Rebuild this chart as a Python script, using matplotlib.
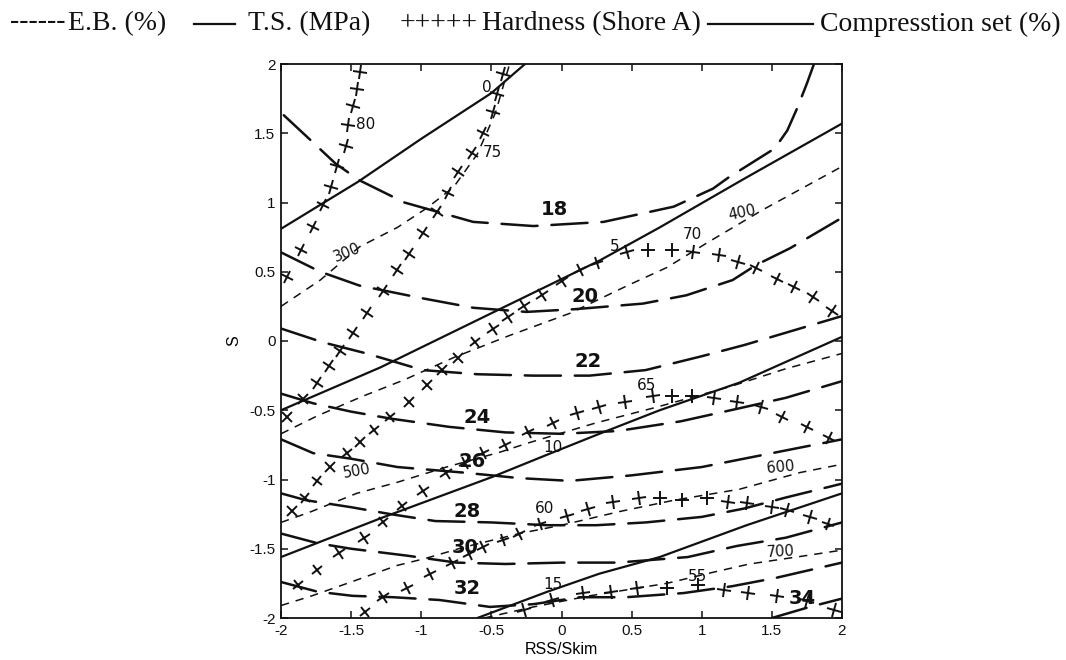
import matplotlib
matplotlib.use("Agg")
import numpy as np
import matplotlib.pyplot as plt
from matplotlib.markers import MarkerStyle
from matplotlib.transforms import Affine2D
from matplotlib.lines import Line2D

plt.rcParams["axes.unicode_minus"] = False
plt.rcParams["lines.scale_dashes"] = False

# ---------------- Tensile strength T.S. (MPa): solid contours ----------------
ts_levels = ["0", "5", "10", "15"]
ts_0 = [(-2.0, 0.81), (-1.45, 1.15), (-1.0, 1.46), (-0.5, 1.79), (-0.26, 2.0)]
ts_5 = [(-2.0, -0.50), (-1.29, -0.19), (-0.42, 0.24), (0.27, 0.58), (0.70, 0.82),
        (1.30, 1.17), (2.0, 1.57)]
ts_10 = [(-2.0, -1.56), (-1.29, -1.28), (-0.49, -0.98), (-0.10, -0.82), (0.27, -0.67),
         (0.70, -0.50), (1.27, -0.30), (2.0, 0.03)]
ts_15 = [(-0.60, -2.0), (-0.10, -1.81), (0.27, -1.68), (0.70, -1.56), (1.32, -1.33),
         (2.0, -1.10)]
ts_label_xy = [(-0.53, 1.83), (0.38, 0.68), (-0.06, -0.77), (-0.06, -1.76)]

# ---------------- Compression set (%): long-dash contours ----------------
cs_levels = ["18", "20", "22", "24", "26", "28", "30", "32", "34"]
cs_18 = [(-1.98, 1.63), (-1.81, 1.47), (-1.61, 1.28), (-1.44, 1.16), (-1.12, 1.0),
         (-0.63, 0.86), (-0.2, 0.83), (0.3, 0.86), (0.8, 0.97), (1.08, 1.10),
         (1.19, 1.18), (1.52, 1.39), (1.61, 1.52), (1.68, 1.68), (1.75, 1.86), (1.80, 2.0)]
cs_20 = [(-2.0, 0.64), (-1.72, 0.50), (-1.44, 0.40), (-1.0, 0.31), (-0.63, 0.24),
         (-0.25, 0.21), (0.1, 0.23), (0.58, 0.27), (0.89, 0.33), (1.22, 0.44),
         (1.39, 0.55), (1.63, 0.67), (2.0, 0.89)]
cs_22 = [(-2.0, 0.09), (-1.70, -0.01), (-1.39, -0.09), (-0.99, -0.21), (-0.6, -0.24),
         (-0.2, -0.25), (0.2, -0.25), (0.6, -0.21), (1.0, -0.11), (1.3, -0.03),
         (1.6, 0.06), (2.0, 0.18)]
cs_24 = [(-2.0, -0.38), (-1.77, -0.45), (-1.5, -0.51), (-1.22, -0.56), (-0.8, -0.62),
         (-0.4, -0.66), (0.0, -0.67), (0.4, -0.65), (0.85, -0.58), (1.25, -0.49),
         (1.6, -0.41), (2.0, -0.29)]
cs_26 = [(-2.0, -0.71), (-1.77, -0.81), (-1.5, -0.85), (-1.17, -0.91), (-0.7, -0.95),
         (-0.3, -0.99), (0.06, -1.01), (0.5, -0.97), (1.0, -0.91), (1.5, -0.81),
         (2.0, -0.71)]
cs_28 = [(-2.0, -1.10), (-1.82, -1.15), (-1.5, -1.20), (-1.22, -1.25), (-0.9, -1.30),
         (-0.5, -1.31), (-0.1, -1.33), (0.25, -1.33), (0.6, -1.31), (1.0, -1.27),
         (1.3, -1.21), (1.6, -1.13), (2.0, -1.03)]
cs_30 = [(-2.0, -1.39), (-1.74, -1.46), (-1.5, -1.50), (-1.1, -1.55), (-0.75, -1.60),
         (-0.4, -1.61), (0.0, -1.60), (0.4, -1.60), (0.9, -1.56), (1.25, -1.48),
         (1.6, -1.42), (2.0, -1.31)]
cs_32 = [(-2.0, -1.74), (-1.74, -1.81), (-1.49, -1.84), (-1.2, -1.85), (-0.87, -1.87),
         (-0.51, -1.92), (-0.2, -1.90), (0.13, -1.85), (0.46, -1.85), (0.87, -1.82),
         (1.22, -1.77), (1.53, -1.71), (2.0, -1.60)]
cs_34 = [(1.50, -2.0), (1.77, -1.92), (2.0, -1.86)]
cs_label_xy = [(-0.05, 0.95), (0.17, 0.32), (0.19, -0.15), (-0.60, -0.55), (-0.64, -0.87),
               (-0.67, -1.23), (-0.69, -1.49), (-0.67, -1.79), (1.72, -1.86)]

# ---------------- Elongation at break E.B. (%): short-dash contours ----------------
eb_levels = ["300", "400", "500", "600", "700"]
eb_300 = [(-2.0, 0.25), (-1.72, 0.44), (-1.44, 0.68), (-1.17, 0.82), (-0.96, 0.96),
          (-0.77, 1.11), (-0.6, 1.35), (-0.47, 1.65), (-0.37, 2.0)]
eb_400 = [(-2.0, -0.67), (-1.74, -0.54), (-1.42, -0.40), (-1.12, -0.28), (-0.77, -0.12),
          (-0.37, 0.04), (0.06, 0.20), (0.47, 0.40), (0.75, 0.53), (1.04, 0.71),
          (1.44, 0.95), (2.0, 1.26)]
eb_500 = [(-2.0, -1.31), (-1.78, -1.23), (-1.46, -1.10), (-1.17, -1.02), (-0.82, -0.91),
          (-0.43, -0.80), (-0.25, -0.74), (0.25, -0.59), (0.67, -0.48), (1.2, -0.33),
          (1.6, -0.20), (2.0, -0.09)]
eb_600 = [(-2.0, -1.91), (-1.78, -1.84), (-1.5, -1.74), (-1.17, -1.62), (-0.97, -1.57),
          (-0.7, -1.49), (-0.3, -1.39), (0.0, -1.33), (0.42, -1.23), (0.8, -1.15),
          (1.27, -1.07), (1.7, -0.95), (2.0, -0.89)]
eb_700 = [(-0.55, -2.0), (-0.2, -1.92), (0.2, -1.84), (0.75, -1.75), (1.08, -1.67),
          (1.34, -1.61), (1.74, -1.55), (2.0, -1.51)]
eb_label_xy = [(-1.53, 0.64), (1.29, 0.93), (-1.46, -0.94), (1.56, -0.91), (1.56, -1.52)]
eb_label_rot = [22, 12, 10, 5, 3]

# ---------------- Hardness (Shore A): chains of crosses ----------------
hs_levels = ["80", "75", "70", "65", "60", "55"]
hs_80 = [(-1.96, 0.46), (-1.86, 0.66), (-1.77, 0.82), (-1.70, 0.98), (-1.64, 1.11),
         (-1.60, 1.26), (-1.54, 1.41), (-1.52, 1.56), (-1.49, 1.70), (-1.46, 1.82),
         (-1.44, 1.94)]
hs_75 = [(-1.96, -0.55), (-1.84, -0.42), (-1.74, -0.30), (-1.66, -0.18), (-1.58, -0.07),
         (-1.49, 0.06), (-1.39, 0.20), (-1.27, 0.36), (-1.17, 0.51), (-1.09, 0.63),
         (-0.99, 0.78), (-0.89, 0.93), (-0.81, 1.07), (-0.74, 1.22), (-0.64, 1.36),
         (-0.56, 1.50), (-0.49, 1.65), (-0.46, 1.78), (-0.42, 1.93)]
hs_70 = [(-1.92, -1.23), (-1.83, -1.13), (-1.74, -1.01), (-1.65, -0.91), (-1.53, -0.81),
         (-1.44, -0.73), (-1.34, -0.64), (-1.22, -0.55), (-1.09, -0.44), (-0.96, -0.32),
         (-0.85, -0.21), (-0.74, -0.12), (-0.62, -0.01), (-0.49, 0.09), (-0.38, 0.17),
         (-0.27, 0.25), (-0.14, 0.33), (0.0, 0.43), (0.13, 0.51), (0.25, 0.56),
         (0.47, 0.64), (0.62, 0.66), (0.79, 0.66), (0.94, 0.64), (1.12, 0.62),
         (1.26, 0.57), (1.39, 0.53), (1.54, 0.45), (1.66, 0.39), (1.79, 0.32), (1.93, 0.22)]
hs_65 = [(-1.88, -1.76), (-1.74, -1.65), (-1.59, -1.53), (-1.41, -1.42), (-1.27, -1.31),
         (-1.14, -1.19), (-0.99, -1.08), (-0.82, -0.95), (-0.69, -0.88), (-0.56, -0.81),
         (-0.40, -0.75), (-0.24, -0.66), (-0.06, -0.59), (0.11, -0.52), (0.27, -0.48),
         (0.45, -0.44), (0.65, -0.40), (0.79, -0.40), (0.93, -0.40), (1.09, -0.41),
         (1.25, -0.44), (1.42, -0.48), (1.57, -0.55), (1.75, -0.62), (1.91, -0.70)]
hs_60 = [(-1.40, -1.96), (-1.27, -1.85), (-1.10, -1.78), (-0.94, -1.68), (-0.78, -1.60),
         (-0.66, -1.54), (-0.56, -1.49), (-0.42, -1.44), (-0.30, -1.39), (-0.15, -1.32),
         (0.04, -1.26), (0.19, -1.21), (0.37, -1.16), (0.55, -1.13), (0.70, -1.13),
         (0.86, -1.15), (1.04, -1.13), (1.19, -1.16), (1.32, -1.17), (1.50, -1.20),
         (1.61, -1.22), (1.77, -1.27), (1.90, -1.32)]
hs_55 = [(-0.27, -1.94), (-0.07, -1.87), (0.15, -1.82), (0.35, -1.81), (0.54, -1.78),
         (0.75, -1.78), (0.97, -1.76), (1.16, -1.80), (1.33, -1.82), (1.54, -1.84),
         (1.75, -1.88), (1.94, -1.94)]
hs_label_xy = [(-1.40, 1.56), (-0.49, 1.36), (0.93, 0.77), (0.61, -0.32), (-0.12, -1.21),
               (0.97, -1.70)]

tick_values = [-2, -1.5, -1, -0.5, 0, 0.5, 1, 1.5, 2]
tick_labels = ["-2", "-1.5", "-1", "-0.5", "0", "0.5", "1", "1.5", "2"]

# ---------------- figure ----------------
W, H = 1066, 660
fig = plt.figure(figsize=(W / 100, H / 100), dpi=100)
ax = fig.add_axes([281 / W, 42 / H, 561 / W, 554 / H])
ax.set_xlim(-2, 2)
ax.set_ylim(-2, 2)

ink = "#111111"


def xy(pts):
    a = np.asarray(pts, dtype=float)
    return a[:, 0], a[:, 1]


for pts in [ts_0, ts_5, ts_10, ts_15]:
    x, y = xy(pts)
    ax.plot(x, y, color=ink, lw=1.6, solid_capstyle="round", zorder=3)

for pts in [cs_18, cs_20, cs_22, cs_24, cs_26, cs_28, cs_30, cs_32, cs_34]:
    x, y = xy(pts)
    ax.plot(x, y, color=ink, lw=1.8, linestyle=(0, (26, 10)), dash_capstyle="round",
            zorder=3)

for pts in [eb_300, eb_400, eb_500, eb_600, eb_700]:
    x, y = xy(pts)
    ax.plot(x, y, color=ink, lw=1.1, linestyle=(0, (6, 5)), zorder=3)

# crosses rotated so one arm follows the local direction of the chain
fig.canvas.draw()
for pts in [hs_80, hs_75, hs_70, hs_65, hs_60, hs_55]:
    x, y = xy(pts)
    disp = ax.transData.transform(np.column_stack([x, y]))
    n = len(x)
    for i in range(n):
        j0, j1 = max(i - 1, 0), min(i + 1, n - 1)
        dx, dy = disp[j1] - disp[j0]
        ang = np.degrees(np.arctan2(dy, dx))
        m = MarkerStyle("+", transform=Affine2D().rotate_deg(ang))
        ax.plot([x[i]], [y[i]], linestyle="none", marker=m, markersize=10,
                markeredgewidth=1.4, color=ink, zorder=4)

# inline contour labels
for lab, (lx, ly) in zip(ts_levels, ts_label_xy):
    ax.text(lx, ly, lab, fontsize=11, ha="center", va="center", color=ink, zorder=5)
for lab, (lx, ly) in zip(cs_levels, cs_label_xy):
    ax.text(lx, ly, lab, fontsize=14, ha="center", va="center", color=ink,
            fontweight="bold", zorder=5)
for lab, (lx, ly), r in zip(eb_levels, eb_label_xy, eb_label_rot):
    ax.text(lx, ly, lab, fontsize=10.5, ha="center", va="center", rotation=r,
            color=ink, zorder=5)
for lab, (lx, ly) in zip(hs_levels, hs_label_xy):
    ax.text(lx, ly, lab, fontsize=11, ha="center", va="center", color=ink, zorder=5)

# axes styling (ticks inside, on all four sides)
ax.set_xticks(tick_values)
ax.set_yticks(tick_values)
ax.set_xticklabels(tick_labels, family="Liberation Sans", fontsize=11)
ax.set_yticklabels(tick_labels, family="Liberation Sans", fontsize=11)
ax.tick_params(direction="in", length=5, width=1.1, top=True, right=True,
               colors=ink, pad=4)
for s in ax.spines.values():
    s.set_linewidth(1.3)
    s.set_color(ink)
ax.set_xlabel("RSS/Skim", family="Liberation Sans", fontsize=11.5, labelpad=3)
ax.set_ylabel("S", family="Liberation Sans", fontsize=11.5, labelpad=6)

# legend row across the top
ty = 1 - 24 / H
serif = dict(family="Liberation Serif", fontsize=20, va="center", color=ink)
fig.text(10 / W, ty + 0.004, "------", **serif)
fig.text(68 / W, ty, "E.B. (%)", **serif)
fig.add_artist(Line2D([194 / W, 235 / W], [ty, ty], color=ink, lw=1.6))
fig.text(248 / W, ty, "T.S. (MPa)", **serif)
fig.text(400 / W, ty, "+++++", **serif)
fig.text(482 / W, ty, "Hardness (Shore A)", **serif)
fig.add_artist(Line2D([708 / W, 813 / W], [ty, ty], color=ink, lw=1.6))
fig.text(820 / W, ty, "Compresstion set (%)", **serif)

fig.savefig("out.png", dpi=100)
